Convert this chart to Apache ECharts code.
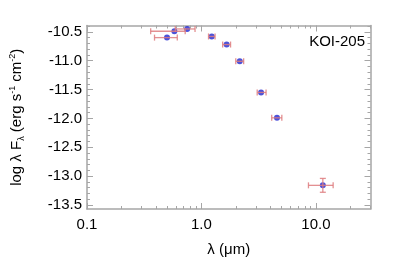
<!DOCTYPE html>
<html>
<head>
<meta charset="utf-8">
<script src="https://cdn.jsdelivr.net/npm/echarts@6/dist/echarts.min.js"></script>
<style>html,body{margin:0;padding:0;background:#fff;}#c{width:395px;height:263px;}</style>
</head>
<body>
<div id="c"></div>
<script>
// Data
const wavelength = [0.50, 0.58, 0.75, 1.23, 1.66, 2.16, 3.32, 4.57, 11.5];
const wavelengthLow = [0.389, 0.360, 0.591, 1.153, 1.532, 1.995, 3.07, 4.11, 8.61];
const wavelengthHigh = [0.615, 0.721, 0.879, 1.315, 1.796, 2.338, 3.67, 5.04, 14.15];
const logFlux = [-10.60, -10.49, -10.45, -10.58, -10.72, -11.01, -11.55, -11.99, -13.16];
const logFluxErr = [0, 0, 0, 0, 0, 0, 0, 0, 0.12];
const xMajorTicks = [0.1, 1, 10];
const xMinorTicks = [0.2,0.3,0.4,0.5,0.6,0.7,0.8,0.9,2,3,4,5,6,7,8,9,20,30];
const yMajorTicks = [-13.5, -13.0, -12.5, -12.0, -11.5, -11.0, -10.5];
const yMinorTicks = [-13.4,-13.3,-13.2,-13.1,-12.9,-12.8,-12.7,-12.6,-12.4,-12.3,-12.2,-12.1,-11.9,-11.8,-11.7,-11.6,-11.4,-11.3,-11.2,-11.1,-10.9,-10.8,-10.7,-10.6,-10.4];
const label = 'KOI-205';

const FONT = "'Liberation Sans', Arial, Helvetica, sans-serif";
const AX = '#a6a6a6';
const xMin = 0.1, xMax = 30, yMin = -13.57, yMax = -10.39;

function xAxisDef(pos, ticks, len, showLine, showLabel) {
  return {
    type: 'log', logBase: 10, min: xMin, max: xMax, position: pos, gridIndex: 0,
    axisLine: {show: showLine, onZero: false, lineStyle: {color: AX, width: 1.5}},
    axisTick: {show: true, inside: true, length: len, customValues: ticks, lineStyle: {color: AX, width: 1}},
    axisLabel: {show: showLabel, customValues: xMajorTicks, margin: 8, color: '#000', fontSize: 15, fontFamily: FONT,
      formatter: v => Number(v).toFixed(1)},
    splitLine: {show: false}, minorTick: {show: false}
  };
}
function yAxisDef(pos, ticks, len, showLine, showLabel) {
  return {
    type: 'value', min: yMin, max: yMax, position: pos, gridIndex: 0,
    axisLine: {show: showLine, onZero: false, lineStyle: {color: AX, width: 1.5}},
    axisTick: {show: true, inside: true, length: len, customValues: ticks, lineStyle: {color: AX, width: 1}},
    axisLabel: {show: showLabel, customValues: yMajorTicks, margin: 5, color: '#000', fontSize: 15, fontFamily: FONT,
      formatter: v => Number(v).toFixed(1)},
    splitLine: {show: false}
  };
}

const xAxes = [
  xAxisDef('bottom', xMajorTicks, 6, true, true),
  xAxisDef('bottom', xMinorTicks, 3, false, false),
  xAxisDef('top', xMajorTicks, 6, true, false),
  xAxisDef('top', xMinorTicks, 3, false, false)
];
xAxes[0].name = 'λ (μm)';
xAxes[0].nameLocation = 'middle';
xAxes[0].nameGap = 33;
xAxes[0].nameTextStyle = {color: '#000', fontSize: 15, fontFamily: FONT};

const yAxes = [
  yAxisDef('left', yMajorTicks, 6, true, true),
  yAxisDef('left', yMinorTicks, 3, false, false),
  yAxisDef('right', yMajorTicks, 6, true, false),
  yAxisDef('right', yMinorTicks, 3, false, false)
];
yAxes[0].name = 'log λ F{sub|λ} (erg s{sup|-1} cm{sup|-2})';
yAxes[0].nameLocation = 'middle';
yAxes[0].nameGap = 61;
yAxes[0].nameRotate = 90;
yAxes[0].nameTextStyle = {
  color: '#000', fontSize: 15, fontFamily: FONT, lineHeight: 18,
  rich: {
    sub: {fontSize: 9, fontFamily: FONT, color: '#000', verticalAlign: 'bottom', lineHeight: 18},
    sup: {fontSize: 9, fontFamily: FONT, color: '#000', verticalAlign: 'top', lineHeight: 18}
  }
};

const pts = wavelength.map((w, i) => [w, logFlux[i]]);
const errData = wavelength.map((w, i) => [w, logFlux[i], wavelengthLow[i], wavelengthHigh[i],
  logFlux[i] - logFluxErr[i], logFlux[i] + logFluxErr[i], logFluxErr[i]]);

const ERR = '#de7c7f';
function renderErr(params, api) {
  const y = api.value(1), x = api.value(0);
  const lo = api.coord([api.value(2), y]);
  const hi = api.coord([api.value(3), y]);
  const cap = 3;
  const st = {stroke: ERR, lineWidth: 1.3, opacity: 0.85};
  const ln = (x1, y1, x2, y2) => ({type: 'line', shape: {x1, y1, x2, y2}, style: st});
  const kids = [
    ln(lo[0], lo[1], hi[0], hi[1]),
    ln(lo[0], lo[1] - cap, lo[0], lo[1] + cap),
    ln(hi[0], hi[1] - cap, hi[0], hi[1] + cap)
  ];
  if (api.value(6) > 0) {
    const yl = api.coord([x, api.value(4)]);
    const yh = api.coord([x, api.value(5)]);
    kids.push(ln(yl[0], yl[1], yh[0], yh[1]));
    kids.push(ln(yl[0] - cap, yl[1], yl[0] + cap, yl[1]));
    kids.push(ln(yh[0] - cap, yh[1], yh[0] + cap, yh[1]));
  }
  return {type: 'group', children: kids};
}

const chart = echarts.init(document.getElementById('c'), null, {renderer: 'canvas'});
chart.setOption({
  animation: false,
  backgroundColor: '#fff',
  grid: {left: 83.5, right: 24.5, top: 25.5, bottom: 54, containLabel: false},
  xAxis: xAxes,
  yAxis: yAxes,
  graphic: [{
    type: 'text', right: 30, top: 34,
    style: {text: label, fill: '#000', fontSize: 15, fontFamily: FONT}
  }],
  series: [
    {type: 'scatter', xAxisIndex: 0, yAxisIndex: 0, data: pts, symbol: 'circle', symbolSize: 6,
      itemStyle: {color: '#2127cf'}, z: 2},
    {type: 'custom', xAxisIndex: 0, yAxisIndex: 0, data: errData, renderItem: renderErr,
      encode: {x: 0, y: 1}, z: 3}
  ]
});
</script>
</body>
</html>
